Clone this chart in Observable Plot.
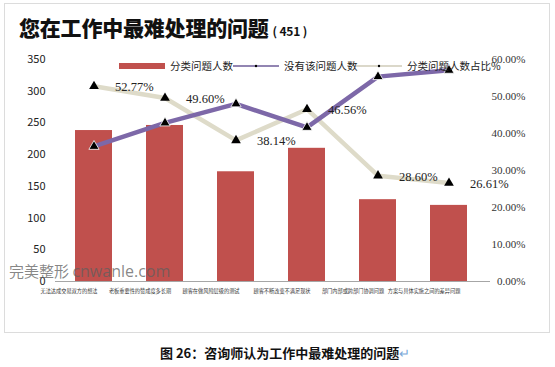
<!DOCTYPE html>
<html>
<head>
<meta charset="utf-8">
<script src="https://cdn.jsdelivr.net/npm/d3@7"></script>
<script src="https://cdn.jsdelivr.net/npm/@observablehq/plot@0.6"></script>
<style>
  html, body { margin: 0; padding: 0; background: #fff; }
  #wrap { position: relative; width: 555px; height: 367px; overflow: hidden; font-family: "Noto Sans CJK SC", "Noto Sans", sans-serif; }
  #box { position: absolute; left: 4px; top: 3px; width: 546px; height: 330px; border: 1px solid #dcdcdc; box-sizing: border-box; }
  #title { position: absolute; left: 19px; top: 12px; font-size: 21px; font-weight: 900; color: #111; white-space: nowrap; letter-spacing: -0.2px; }
  #title span { font-size: 12px; font-weight: 700; margin-left: 4px; white-space: pre; }
  #chart { position: absolute; left: 0; top: 0; }
  .leg { position: absolute; top: 58px; font-size: 10.5px; color: #222; white-space: nowrap; display: flex; align-items: center; }
  #wm { position: absolute; left: 9px; top: 260px; color: rgba(95,95,95,0.75); white-space: nowrap; font-size: 15px; }
  #wm b { font-weight: 400; font-family: "Open Sans", "DejaVu Sans", sans-serif; font-size: 16px; }
  #cap { position: absolute; left: 160px; top: 343px; font-size: 13px; font-weight: 700; color: #111; white-space: nowrap; font-family: "Noto Sans CJK SC", serif; }
  #cap i { font-style: normal; color: #7aa8d8; font-weight: 400; }
</style>
</head>
<body>
<div id="wrap">
  <div id="box"></div>
  <div id="chart"></div>
  <div id="title">您在工作中最难处理的问题<span>( 451 )</span></div>
  <div id="legend"></div>
  <div id="wm">完美整形 <b>cnwanle.com</b></div>
  <div id="cap">图 26：咨询师认为工作中最难处理的问题<i>↵</i></div>
</div>
<script>
const categories = ["无法达成交易双方的想法", "老板重要性的赞成度多长期", "顾客在做风险层级的测试", "顾客不断改变不满足现状", "部门内部或跨部门协调问题", "方案与具体实施之间的差异问题"];
const countValues = [238, 246, 173, 210, 129, 120];
const withoutValues = [213, 250, 280, 243, 323, 333];
const sharePct = [52.77, 49.60, 38.14, 46.56, 28.60, 26.61];
const leftTicks = [0, 50, 100, 150, 200, 250, 300, 350];
const rightTicks = [0, 10, 20, 30, 40, 50, 60];
const seriesNames = ["分类问题人数", "没有该问题人数", "分类问题人数占比%"];

const leftMax = 350, rightMax = 60;
const toLeft = p => p * leftMax / rightMax;

const data = categories.map((c, i) => ({
  cat: c, count: countValues[i], without: withoutValues[i],
  pct: sharePct[i], pctY: toLeft(sharePct[i]),
  label: sharePct[i].toFixed(2) + "%"
}));

const rightMap = new Map(rightTicks.map(p => [toLeft(p), p.toFixed(2) + "%"]));

const chart = Plot.plot({
  width: 555,
  height: 367,
  marginTop: 59,
  marginBottom: 86,
  marginLeft: 55,
  marginRight: 69,
  style: {fontFamily: "'Noto Sans CJK SC', 'Noto Sans', sans-serif", color: "#222", background: "transparent"},
  x: {domain: categories, padding: 0.48, paddingOuter: 0.24},
  y: {domain: [0, leftMax]},
  marks: [
    Plot.barY(data, {x: "cat", y: "count", fill: "#c0504d"}),
    Plot.ruleY([0], {stroke: "#a6a6a6", strokeWidth: 1, insetLeft: 0, insetRight: -4}),
    Plot.line(data, {x: "cat", y: "pctY", stroke: "#dedbc9", strokeWidth: 4.5}),
    Plot.line(data, {x: "cat", y: "without", stroke: "#7d68a8", strokeWidth: 4.5}),
    Plot.dot(data, {x: "cat", y: "pctY", symbol: "triangle", fill: "#000", r: 3.6}),
    Plot.dot(data, {x: "cat", y: "without", symbol: "triangle", fill: "#000", stroke: "#fff", strokeWidth: 0.8, r: 3.8}),
    Plot.text(data, {x: "cat", y: "pctY", text: "label", textAnchor: "start", dx: 21, dy: 1, fontSize: 12.5, fontFamily: "'Liberation Serif', 'DejaVu Serif', serif", fill: "#222"}),
    Plot.axisY(leftTicks, {anchor: "left", tickSize: 0, tickPadding: 10, fontSize: 11, label: null, fill: "#222"}),
    Plot.axisY(rightTicks.map(toLeft), {anchor: "right", tickSize: 0, tickPadding: 39, textAnchor: "end", tickFormat: d => rightMap.get(d), fontSize: 11, fontFamily: "'Liberation Serif', 'DejaVu Serif', serif", label: null, fill: "#333"}),
    Plot.axisX({anchor: "bottom", tickSize: 0, tickPadding: 8, dx: -25, fontSize: 5.2, label: null, fill: "#333"})
  ]
});
document.getElementById("chart").appendChild(chart);

// legend
const colors = ["#c0504d", "#6e5c98", "#cfcbb8"];
const legend = document.getElementById("legend");
const legPos = [119, 233, 356];
seriesNames.forEach((name, i) => {
  const d = document.createElement("div");
  d.className = "leg";
  d.style.left = legPos[i] + "px";
  let sw;
  if (i === 0) {
    sw = `<svg width="47" height="12"><rect x="0" y="3" width="46" height="6" fill="${colors[0]}"/></svg>`;
  } else {
    sw = `<svg width="47" height="12"><line x1="0" x2="46" y1="6" y2="6" stroke="${colors[i]}" stroke-width="1.5"/><circle cx="23" cy="6" r="1.2" fill="#000"/></svg>`;
  }
  d.innerHTML = sw + `<span style="margin-left:4px">${name}</span>`;
  legend.appendChild(d);
});
</script>
</body>
</html>
